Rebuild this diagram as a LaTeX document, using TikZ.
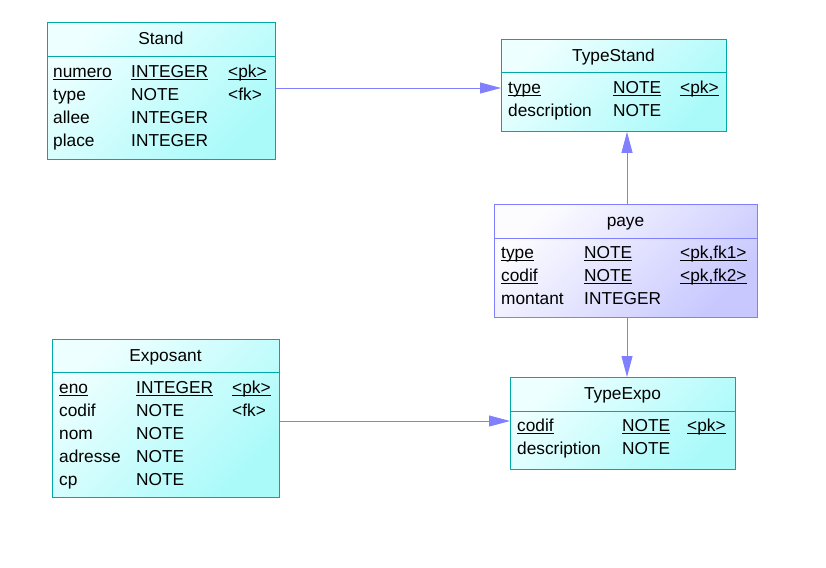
\documentclass[tikz,border=0pt]{standalone}
\usepackage{fontspec}
\setmainfont{Liberation Sans}
\usetikzlibrary{arrows.meta}
\definecolor{tealb}{RGB}{0,168,168}
\definecolor{cyanl}{RGB}{238,255,255}
\definecolor{cyand}{RGB}{170,250,250}
\definecolor{lavb}{RGB}{128,128,255}
\definecolor{lavl}{RGB}{252,252,255}
\definecolor{lavd}{RGB}{200,200,255}
\newcommand\ulx[1]{\setbox0\hbox{#1}\rlap{\rule[-2.4pt]{\wd0}{0.9pt}}#1}
\tikzset{
 tbl/.style={draw=tealb, line width=0.9pt, top color=cyanl, bottom color=cyand, shading angle=45, inner sep=0pt, anchor=north west},
 tblp/.style={tbl, draw=lavb, top color=lavl, bottom color=lavd, shading angle=45},
 divt/.style={draw=tealb, line width=0.9pt},
 divp/.style={draw=lavb, line width=0.9pt},
 txt/.style={anchor=base west, inner sep=0pt, font=\fontsize{17.3}{20}\selectfont},
 ttl/.style={anchor=base, inner sep=0pt, font=\fontsize{17.3}{20}\selectfont},
 fk/.style={draw=lavb, line width=0.9pt, -{Triangle[length=21pt,width=11pt]}},
}
\begin{document}
\begin{tikzpicture}[x=1pt,y=-1pt]
\useasboundingbox[fill=white] (0,0) rectangle (826,567);

% Stand
\node[tbl, minimum width=228pt, minimum height=137pt] (stand) at (47,22) {};
\draw[divt] ([yshift=-34pt]stand.north west) -- ([yshift=-34pt]stand.north east);
\node[ttl] (standT) at (161,44.5) {Stand};
\node[txt] (s1a) at (53,77.5) {\ulx{numero}};
\node[txt] (s1b) at (131,77.5) {\ulx{INTEGER}};
\node[txt] (s1c) at (228,77.5) {\ulx{<pk>}};
\node[txt] (s2a) at (53,100.5) {type};
\node[txt] (s2b) at (131,100.5) {NOTE};
\node[txt] (s2c) at (228,100.5) {<fk>};
\node[txt] (s3a) at (53,123) {allee};
\node[txt] (s3b) at (131,123) {INTEGER};
\node[txt] (s4a) at (53,146) {place};
\node[txt] (s4b) at (131,146) {INTEGER};

% TypeStand
\node[tbl, minimum width=225pt, minimum height=92pt] (typestand) at (501,39) {};
\draw[divt] ([yshift=-33pt]typestand.north west) -- ([yshift=-33pt]typestand.north east);
\node[ttl] (typestandT) at (613.5,61.5) {TypeStand};
\node[txt] (t1a) at (508,93.5) {\ulx{type}};
\node[txt] (t1b) at (613,93.5) {\ulx{NOTE}};
\node[txt] (t1c) at (680,93.5) {\ulx{<pk>}};
\node[txt] (t2a) at (508,116.5) {description};
\node[txt] (t2b) at (613,116.5) {NOTE};

% paye
\node[tblp, minimum width=263pt, minimum height=113pt] (paye) at (494,204) {};
\draw[divp] ([yshift=-34pt]paye.north west) -- ([yshift=-34pt]paye.north east);
\node[ttl] (payeT) at (625.5,226.5) {paye};
\node[txt] (p1a) at (501,258.5) {\ulx{type}};
\node[txt] (p1b) at (584,258.5) {\ulx{NOTE}};
\node[txt] (p1c) at (680,258.5) {\ulx{<pk,fk1>}};
\node[txt] (p2a) at (501,281.5) {\ulx{codif}};
\node[txt] (p2b) at (584,281.5) {\ulx{NOTE}};
\node[txt] (p2c) at (680,281.5) {\ulx{<pk,fk2>}};
\node[txt] (p3a) at (501,304.5) {montant};
\node[txt] (p3b) at (584,304.5) {INTEGER};

% Exposant
\node[tbl, minimum width=227pt, minimum height=158pt] (exposant) at (52,339) {};
\draw[divt] ([yshift=-33pt]exposant.north west) -- ([yshift=-33pt]exposant.north east);
\node[ttl] (exposantT) at (165.5,361.5) {Exposant};
\node[txt] (e1a) at (59,393.5) {\ulx{eno}};
\node[txt] (e1b) at (136,393.5) {\ulx{INTEGER}};
\node[txt] (e1c) at (232,393.5) {\ulx{<pk>}};
\node[txt] (e2a) at (59,416.5) {codif};
\node[txt] (e2b) at (136,416.5) {NOTE};
\node[txt] (e2c) at (232,416.5) {<fk>};
\node[txt] (e3a) at (59,439.5) {nom};
\node[txt] (e3b) at (136,439.5) {NOTE};
\node[txt] (e4a) at (59,462.5) {adresse};
\node[txt] (e4b) at (136,462.5) {NOTE};
\node[txt] (e5a) at (59,485.5) {cp};
\node[txt] (e5b) at (136,485.5) {NOTE};

% TypeExpo
\node[tbl, minimum width=225pt, minimum height=92pt] (typeexpo) at (510,377) {};
\draw[divt] ([yshift=-34pt]typeexpo.north west) -- ([yshift=-34pt]typeexpo.north east);
\node[ttl] (typeexpoT) at (622.5,399.5) {TypeExpo};
\node[txt] (x1a) at (517,431.5) {\ulx{codif}};
\node[txt] (x1b) at (622,431.5) {\ulx{NOTE}};
\node[txt] (x1c) at (687,431.5) {\ulx{<pk>}};
\node[txt] (x2a) at (517,454.5) {description};
\node[txt] (x2b) at (622,454.5) {NOTE};

% connectors
\draw[fk] (stand.east |- 0,88) -- (typestand.west |- 0,88);
\draw[fk] (paye.north -| 627,0) -- (typestand.south -| 627,0);
\draw[fk] (paye.south -| 627,0) -- (typeexpo.north -| 627,0);
\draw[fk] (exposant.east |- 0,421) -- (typeexpo.west |- 0,421);
\end{tikzpicture}
\end{document}
